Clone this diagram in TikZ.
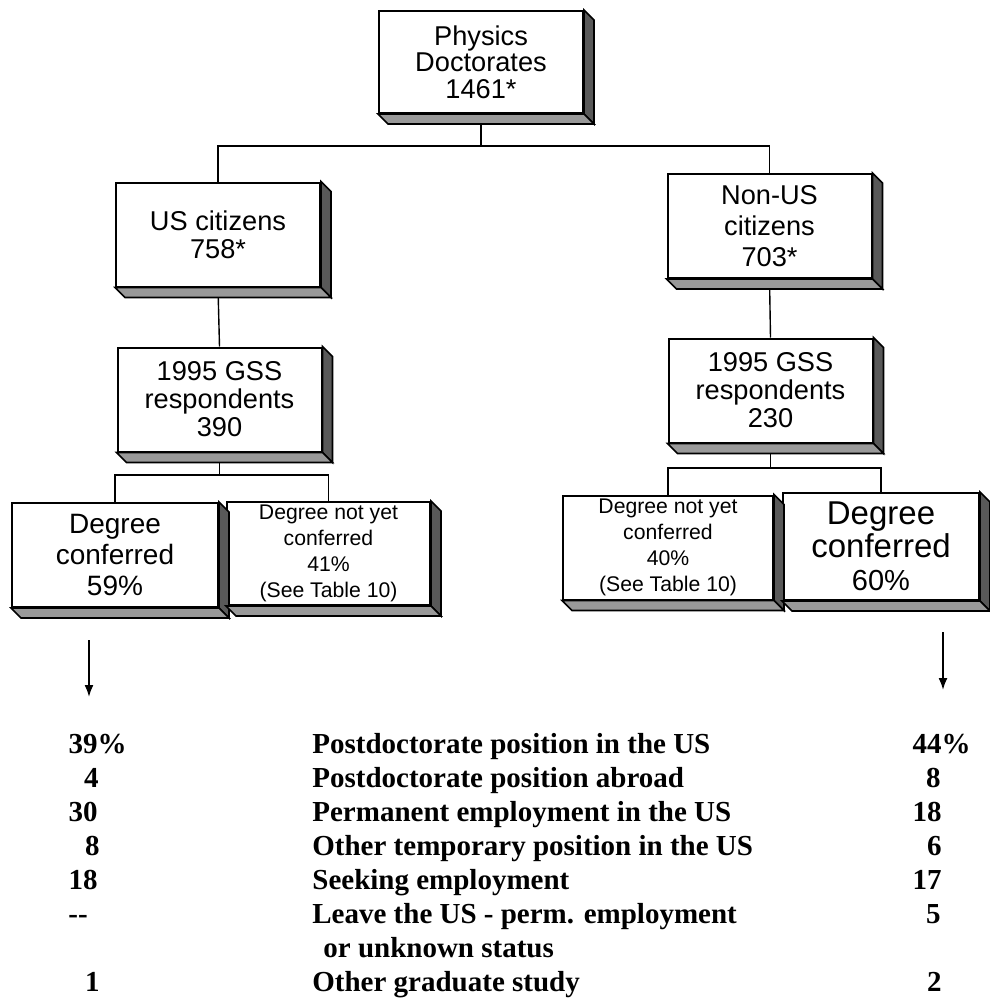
\documentclass[tikz,border=0pt]{standalone}
\usepackage{fontspec}
\setmainfont{Liberation Serif}
\newfontfamily\boxfont{Liberation Sans}
\usetikzlibrary{arrows.meta}

\begin{document}
\begin{tikzpicture}[
    x=0.5pt, y=-0.5pt,
    tray/.style={draw, line width=1pt, fill=white, align=center, inner sep=0pt,
      minimum width=102pt, minimum height=52pt,
      font=\boxfont\fontsize{13.6}{14}\selectfont},
    small/.style={font=\boxfont\fontsize{10.6}{13}\selectfont},
    big/.style={font=\boxfont\fontsize{14}{15.5}\selectfont},
    link/.style={line width=0.7pt},
    down/.style={line width=0.9pt, -{Latex[length=6pt,width=4.5pt]}},
    row/.style={inner sep=0pt, font=\bfseries\fontsize{14.5}{16}\selectfont},
    ]
    \useasboundingbox (0,0) rectangle (990,1001);

    % boxes
    \node[tray, minimum height=51pt, font=\boxfont\fontsize{13.6}{13.3}\selectfont]
      (phd) at (481,62) {Physics\\Doctorates\\1461*};
    \node[tray] (us) at (218,234.5) {US citizens\\758*};
    \node[tray, font=\boxfont\fontsize{13.6}{15.5}\selectfont] (nonus) at (769.5,226)
      {Non-US\\citizens\\703*};
    \node[tray] (gssus) at (219.5,399.5) {1995 GSS\\respondents\\390};
    \node[tray] (gssnon) at (770.5,390.5) {1995 GSS\\respondents\\230};
    \node[tray, big, minimum width=103pt] (deg59) at (115,555) {Degree\\conferred\\59\%};
    \node[tray, small, minimum width=101.5pt, minimum height=51.5pt]
      (ny41) at (328.5,553.5) {Degree not yet\\conferred\\41\%\\(See Table 10)};
    \node[tray, small, minimum width=105pt] (ny40) at (668,547.5)
      {Degree not yet\\conferred\\40\%\\(See Table 10)};
    \node[tray, minimum width=98pt, minimum height=53.5pt,
      font=\boxfont\fontsize{16.5}{16.5}\selectfont] (deg60) at (881,546.5)
      {Degree\\conferred\\{\fontsize{14.5}{16.5}\selectfont 60\%}};

    % tree lines
    \coordinate (j0) at (481,146);
    \coordinate (j1) at (219.5,475);
    \coordinate (j2) at (770.5,468);
    \draw[link] (phd.south) -- (j0);
    \draw[link] (us.north) |- (j0) -| (nonus.north);
    \draw[link] (us.south) -- (gssus.north);
    \draw[link] (nonus.south) -- (gssnon.north);
    \draw[link] (gssus.south) -- (j1);
    \draw[link] (deg59.north) |- (j1) -| (ny41.north);
    \draw[link] (gssnon.south) -- (j2);
    \draw[link] (ny40.north) |- (j2) -| (deg60.north);

    % 3d edges
    \foreach \b in {phd,us,nonus,gssus,gssnon,deg59,ny41,ny40,deg60}{
      \filldraw[fill=black!65, line width=0.8pt] (\b.north east) -- ++(10,10)
        -- ([shift={(10,10)}]\b.south east) -- (\b.south east) -- cycle;
      \filldraw[fill=black!40, line width=0.8pt] (\b.south west) -- ++(10,10)
        -- ([shift={(10,10)}]\b.south east) -- (\b.south east) -- cycle;
    }

    % arrows
    \coordinate (lt) at (89,640);
    \coordinate (lb) at (89,697);
    \coordinate (rt) at (943,632);
    \coordinate (rb) at (943,690);
    \draw[down] (lt) -- (lb);
    \draw[down] (rt) -- (rb);

    % table
    \node[row, anchor=base east] (l1) at (98,753) {39\rlap{\%}};
    \node[row, anchor=base east] (l2) at (99,787) {4};
    \node[row, anchor=base east] (l3) at (98,821) {30};
    \node[row, anchor=base east] (l4) at (100,855) {8};
    \node[row, anchor=base east] (l5) at (98,889) {18};
    \node[row, anchor=base west] (l6) at (68,923) {-{}-};
    \node[row, anchor=base east] (l8) at (100,991) {1};

    \node[row, anchor=base west] (t1) at (312,753) {Postdoctorate position in the US};
    \node[row, anchor=base west] (t2) at (312,787) {Postdoctorate position abroad};
    \node[row, anchor=base west] (t3) at (312,821) {Permanent employment in the US};
    \node[row, anchor=base west] (t4) at (312,855) {Other temporary position in the US};
    \node[row, anchor=base west] (t5) at (312,889) {Seeking employment};
    \node[row, anchor=base west] (t6) at (312,923) {Leave the US - perm. employment};
    \node[row, anchor=base west] (t7) at (323,957) {or unknown status};
    \node[row, anchor=base west] (t8) at (312,991) {Other graduate study};

    \node[row, anchor=base east] (r1) at (942,753) {44\rlap{\%}};
    \node[row, anchor=base east] (r2) at (941,787) {8};
    \node[row, anchor=base east] (r3) at (942,821) {18};
    \node[row, anchor=base east] (r4) at (942,855) {6};
    \node[row, anchor=base east] (r5) at (942,889) {17};
    \node[row, anchor=base east] (r6) at (941,923) {5};
    \node[row, anchor=base east] (r8) at (942,991) {2};
  \end{tikzpicture}
\end{document}
